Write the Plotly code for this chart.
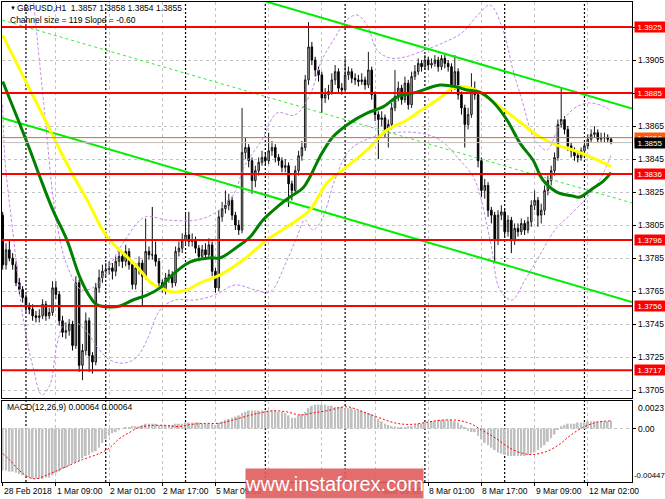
import plotly.graph_objects as go

# ---------------- data (prices in pips above BASE) ----------------
BASE = 1.37
PIP = 0.0001

first_open_pips = 111
close_pips = [81, 90, 85, 81, 70, 66, 61, 55, 54, 50,
              49, 50, 57, 50, 52, 67, 63, 47, 40, 41,
              45, 32, 70, 20, 29, 47, 26, 22, 67, 73,
              77, 78, 79, 77, 83, 86, 83, 89, 81, 69,
              79, 82, 74, 89, 87, 87, 83, 70, 66, 73,
              75, 70, 89, 91, 96, 99, 95, 96, 91, 86,
              90, 87, 93, 77, 67, 110, 115, 117, 120, 111,
              105, 102, 149, 152, 144, 132, 138, 143, 146, 144,
              150, 152, 146, 144, 140, 141, 130, 126, 138, 147,
              152, 193, 213, 205, 199, 196, 182, 184, 186, 193,
              198, 188, 187, 196, 198, 194, 193, 192, 193, 190,
              199, 184, 172, 169, 170, 163, 166, 176, 183, 188,
              181, 191, 178, 195, 198, 203, 201, 205, 202, 203,
              205, 201, 206, 203, 201, 189, 198, 184, 176, 166,
              172, 186, 184, 144, 126, 129, 114, 111, 96, 111,
              113, 101, 108, 96, 103, 101, 106, 102, 107, 117,
              120, 111, 114, 126, 132, 138, 146, 166, 169, 163,
              153, 150, 147, 146, 150, 153, 157, 160, 161, 157,
              158, 158, 157, 155]
high_pips = [113, 94, 96, 88, 83, 73, 68, 63, 58, 57,
             53, 54, 60, 59, 55, 71, 71, 65, 50, 46,
             48, 47, 74, 72, 33, 52, 49, 28, 70, 78,
             81, 82, 83, 82, 86, 90, 88, 93, 91, 83,
             82, 86, 84, 109, 92, 116, 95, 85, 72, 76,
             78, 77, 92, 95, 100, 112, 113, 100, 98, 93,
             93, 94, 97, 95, 79, 114, 119, 126, 124, 122,
             113, 108, 176, 158, 154, 146, 141, 146, 150, 149,
             161, 156, 154, 148, 146, 145, 143, 132, 141, 150,
             156, 196, 228, 216, 207, 201, 198, 188, 190, 197,
             202, 200, 191, 206, 201, 200, 197, 196, 197, 195,
             210, 201, 186, 174, 174, 172, 169, 179, 199, 192,
             190, 195, 193, 198, 202, 206, 205, 208, 207, 206,
             208, 207, 208, 208, 205, 203, 208, 200, 186, 178,
             176, 197, 192, 186, 146, 133, 131, 116, 113, 114,
             117, 115, 111, 110, 106, 106, 109, 108, 110, 120,
             126, 122, 118, 129, 135, 141, 149, 169, 188, 171,
             165, 155, 152, 149, 152, 156, 160, 163, 165, 163,
             161, 161, 160, 158]
low_pips = [78, 78, 83, 78, 68, 63, 58, 52, 51, 47,
            46, 46, 48, 47, 48, 50, 60, 44, 37, 36,
            38, 29, 30, 16, 11, 26, 16, 15, 20, 64,
            70, 74, 75, 72, 74, 80, 79, 80, 78, 66,
            66, 75, 56, 72, 84, 84, 80, 67, 64, 63,
            70, 67, 68, 86, 88, 93, 92, 92, 88, 83,
            84, 84, 85, 74, 64, 65, 107, 112, 114, 108,
            102, 99, 100, 145, 140, 124, 128, 135, 141, 141,
            142, 147, 143, 141, 137, 137, 116, 120, 124, 135,
            144, 150, 190, 202, 195, 192, 173, 179, 181, 184,
            190, 185, 184, 185, 193, 191, 190, 189, 190, 187,
            188, 181, 168, 145, 165, 158, 152, 163, 174, 180,
            178, 179, 175, 176, 193, 196, 198, 199, 199, 200,
            201, 198, 199, 200, 198, 186, 187, 181, 172, 152,
            163, 170, 181, 140, 122, 121, 110, 106, 82, 93,
            108, 98, 98, 88, 93, 98, 99, 99, 100, 104,
            114, 104, 106, 111, 123, 129, 135, 144, 164, 160,
            150, 146, 144, 143, 144, 148, 151, 155, 158, 155,
            155, 155, 155, 154]

# moving averages read at sample bars (bar index, pips)
yellow_idx = [0, 8.2, 12.7, 17.2, 20.8, 25.4, 31.4, 37.4, 41.3, 44.3, 47.3, 51.2, 55.4, 59.3, 65.4,
              72.3, 79.5, 87.3, 92.4, 97.5, 102.3, 109.6, 115.6, 121.6, 125.5, 131.5, 135.4, 139.6,
              143.5, 149.6, 155.6, 161.6, 166.7, 171.5, 177.5, 183]
yellow_pips = [220, 187, 169, 150.5, 136.6, 120.2, 97.8, 85.7, 77.8, 70.5, 66.9, 64.4, 65.7, 69.9, 74.8,
               83.8, 96, 106.3, 114.1, 130.5, 138.4, 150.5, 162.6, 168.7, 174.1, 182, 188.1, 188.7,
               185.6, 176.6, 167.5, 158.4, 153.5, 150.5, 145.7, 140.5]
green_idx = [0, 4.3, 8.2, 11.2, 15.1, 19.3, 23.2, 26.3, 28.4, 32.3, 35.3, 39.2, 43.4, 47.3, 50.3, 56.3,
             62.4, 65.4, 70.5, 74.4, 78.3, 82.5, 86.4, 90.3, 92.4, 95.4, 99.3, 104.4, 109.6, 114.4,
             118.6, 124.6, 131.5, 136.6, 139.6, 143.5, 147.5, 151.7, 155.6, 159.5, 162.5, 166.7,
             171.5, 173.6, 177.5, 180.5, 183]
green_pips = [192, 170.5, 150.5, 134.1, 114.1, 96, 73.5, 61.4, 56.6, 55.4, 56, 59.6, 62.6, 66.9, 73.5, 82.6,
              85.1, 85.1, 91.7, 97.8, 108.1, 115.9, 122, 127.5, 134.1, 146.3, 158.4, 166.9, 172.9, 176.6,
              182.6, 185.6, 189.9, 188.7, 186.9, 185.6, 179.6, 168.7, 154.7, 144.4, 132.3, 125,
              122.6, 122, 127.2, 131.3, 136.8]

# envelope bands read at sample bars
upper_idx = [9, 12.7, 15.7, 19.3, 23.8, 28.4, 32.3, 36.8, 42.8, 49.4, 58.4, 63.8, 69.3, 72.9, 78, 82.5,
             87.9, 92.4, 96, 99.9, 103.5, 106.6, 109.6, 112.6, 116.5, 121, 127, 133, 138.1, 142.9,
             146.6, 150.5, 153.5, 156.2, 160.1, 163.7, 167.6, 172.1, 176.6, 181.1, 183]
upper_pips = [246, 171.7, 114.1, 80.8, 65.7, 68.7, 80.8, 96, 109.9, 108.1, 108.1, 112.3, 123.2, 141.4,
              156.6, 172.9, 171.7, 183.8, 205, 218.4, 229.3, 232.3, 226.2, 211.1, 206.3, 206.9, 211.1,
              215.9, 221.4, 232.3, 238.4, 223.2, 199, 180.8, 156.6, 150.5, 165.7, 176, 179, 176.6, 174]
lower_idx = [0, 0.7, 3.1, 6.1, 9.1, 11.8, 14.2, 16.3, 18.7, 21.7, 25.4, 28.4, 32.3, 36.8, 40.4, 43.4,
             47.3, 51.8, 57.8, 63.8, 69.9, 75.9, 80.4, 84.9, 88.5, 90.9, 93.3, 96, 99.9, 104.4, 110.5,
             116.5, 125.5, 131.5, 137.5, 142, 146.6, 149.6, 153.2, 157.1, 161.6, 166.1, 170.6, 175.1,
             179.6, 183]
lower_pips = [178, 144.4, 100.2, 49.3, 19, 2, 8.1, 32.3, 45.7, 46.3, 40.2, 31.1, 23.2, 21.4, 25.1, 35.4,
              53.5, 59.6, 59.6, 62.6, 68.7, 65.7, 64.4, 80.8, 97.8, 108.1, 102, 108.1, 132.3, 150.5,
              157.8, 160.8, 160.8, 156.6, 144.4, 132.3, 96, 65.7, 59.6, 71.7, 86.9, 102, 111.1, 120.2,
              132.3, 147.5]

# trend channel (bar index, price)
chan_upper_x = [75, 189.3]
chan_upper_y = [1.3943, 1.38756]
chan_lower_x = [-0.21, 189.3]
chan_lower_y = [1.38699, 1.37584]
chan_mid_x = [-0.21, 189.3]
chan_mid_y = [1.39293, 1.38184]

levels = [1.3925, 1.3885, 1.3836, 1.3796, 1.3756, 1.3717]
alert_level = 1.3858
bid_level = 1.3855

price_ticks = [1.3705, 1.3725, 1.3745, 1.3765, 1.3785, 1.3805, 1.3825, 1.3845, 1.3865, 1.3885, 1.3905]
grid_prices = price_ticks + [1.3925]

xtick_idx = [0, 16, 32, 48, 64, 80, 96, 112, 128, 144, 160, 176]
xtick_labels = ["28 Feb 2018", "1 Mar 09:00", "2 Mar 01:00", "2 Mar 17:00", "5 Mar 09:00",
                "6 Mar 01:00", "6 Mar 17:00", "7 Mar 09:00", "8 Mar 01:00", "8 Mar 17:00",
                "9 Mar 09:00", "12 Mar 02:00"]
# labels that sit completely under the watermark banner are not visible in the chart
hidden_labels = ["6 Mar 01:00", "6 Mar 17:00"]
day_start_idx = [7, 31, 55, 79, 103, 127, 151, 175]

# MACD histogram (units of 0.0001) per bar, signal line read at sample bars
macd_e4 = [-35, -35, -36, -36, -37, -38, -39, -40, -41, -42, -42, -42,
           -42, -41, -41, -39, -37, -36, -34, -33, -31, -29, -28, -27,
           -25, -23, -22, -20, -19, -16, -12, -9, -6, -4, -3, -1,
           0, 1, 1, 2, 2, 2, 3, 4, 4, 4, 4, 3,
           3, 3, 3, 3, 4, 4, 4, 5, 5, 5, 5, 5,
           4, 4, 4, 4, 3, 5, 6, 7, 8, 9, 10, 11,
           13, 14, 15, 15, 15, 15, 15, 15, 15, 15, 15, 14,
           14, 13, 11, 9, 9, 11, 12, 14, 17, 19, 20, 20,
           20, 20, 19, 19, 18, 18, 18, 17, 17, 17, 16, 15,
           15, 14, 13, 12, 10, 8, 6, 4, 3, 2, 2, 1,
           1, 1, 2, 2, 3, 4, 4, 5, 5, 6, 6, 7,
           7, 7, 7, 7, 6, 5, 3, 1, -2, -3, -3, -6,
           -9, -12, -14, -16, -18, -20, -21, -22, -23, -23, -23, -23,
           -23, -23, -22, -21, -20, -18, -16, -14, -11, -8, -5, -1,
           2, 3, 4, 4, 4, 5, 5, 5, 6, 6, 6, 6,
           6, 6, 6, 6.4]
signal_idx = [0, 2, 5, 8, 10, 14, 19, 24, 29, 32, 35, 38, 41, 45, 49, 53, 57, 61, 65, 69, 73.5, 77.4,
              81.3, 85.5, 89.4, 93.3, 97.5, 103.5, 108.4, 113.5, 118.6, 123.4, 127.6, 131.5, 136.6,
              140.5, 144.4, 148.6, 152.6, 156.5, 159.5, 163.7, 167.6, 170.6, 174.5, 178.7, 183]
signal_e4 = [-21, -26, -35, -41, -42, -38, -32, -26, -21, -16.5, -8.7, -3.5, 0.9, 2.6, 2.6, 1.7, 3.5,
             4.3, 4.3, 6.9, 10.4, 13, 14.8, 13.9, 11.3, 13, 14.8, 18.2, 13.9, 8.7, 4.3, 3.5, 5.2, 6.9,
             6.9, 4.3, -1.7, -8.7, -16.5, -20.8, -21.7, -19.1, -13, -6.1, 0.9, 5.2, 6.4]

assert len(close_pips) == len(high_pips) == len(low_pips) == len(macd_e4)


def to_price(arr):
    return [round(BASE + v * PIP, 5) for v in arr]


def to_macd(arr):
    return [v * 0.0001 for v in arr]


bars = list(range(len(close_pips)))
open_pips = [first_open_pips] + close_pips[:-1]

# ---------------- figure ----------------
FONT = "Liberation Sans, Arial, sans-serif"
XR = [-0.21, 189.3]
YR = [1.37002, 1.39402]
Y2R = [-0.00447, 0.0023]
GRID = "#c4c4c4"

fig = go.Figure()

fig.add_trace(go.Candlestick(
    x=bars, open=to_price(open_pips), high=to_price(high_pips),
    low=to_price(low_pips), close=to_price(close_pips),
    increasing=dict(line=dict(color="#1a1a1a", width=1), fillcolor="#c4c4c4"),
    decreasing=dict(line=dict(color="#000000", width=1), fillcolor="#000000"),
    whiskerwidth=0, xaxis="x", yaxis="y", hoverinfo="skip", showlegend=False))

band_style = dict(color="#c58ae8", width=1, dash="3px,2px")
fig.add_trace(go.Scatter(x=upper_idx, y=to_price(upper_pips), mode="lines",
                         line=dict(shape="spline", **band_style), xaxis="x", yaxis="y"))
fig.add_trace(go.Scatter(x=lower_idx, y=to_price(lower_pips), mode="lines",
                         line=dict(shape="spline", **band_style), xaxis="x", yaxis="y"))

fig.add_trace(go.Scatter(x=chan_mid_x, y=chan_mid_y, mode="lines",
                         line=dict(color="#33ee33", width=1, dash="3px,3px"), xaxis="x", yaxis="y"))
fig.add_trace(go.Scatter(x=chan_upper_x, y=chan_upper_y, mode="lines",
                         line=dict(color="#00ee00", width=2), xaxis="x", yaxis="y"))
fig.add_trace(go.Scatter(x=chan_lower_x, y=chan_lower_y, mode="lines",
                         line=dict(color="#00ee00", width=2), xaxis="x", yaxis="y"))

fig.add_trace(go.Scatter(x=yellow_idx, y=to_price(yellow_pips), mode="lines",
                         line=dict(color="#ffff00", width=3, shape="spline"), xaxis="x", yaxis="y"))
fig.add_trace(go.Scatter(x=green_idx, y=to_price(green_pips), mode="lines",
                         line=dict(color="#008000", width=3, shape="spline"), xaxis="x", yaxis="y"))

# MACD pane
fig.add_trace(go.Bar(x=bars, y=to_macd(macd_e4), marker=dict(color="#c0c0c0", line=dict(width=0)),
                     width=0.55, xaxis="x2", yaxis="y2", hoverinfo="skip"))
fig.add_trace(go.Scatter(x=signal_idx, y=to_macd(signal_e4), mode="lines",
                         line=dict(color="#ff0000", width=1, dash="2px,2px", shape="spline"),
                         xaxis="x2", yaxis="y2"))

shapes = []
for d in day_start_idx:
    shapes.append(dict(type="line", xref="x", yref="paper", x0=d, x1=d, y0=0, y1=1,
                       line=dict(color="#000000", width=1.2, dash="2px,2px"), layer="below"))
shapes.append(dict(type="line", xref="paper", yref="y", x0=0, x1=1, y0=bid_level, y1=bid_level,
                   line=dict(color="#c0c0c0", width=1), layer="above"))
shapes.append(dict(type="line", xref="paper", yref="y", x0=0, x1=1, y0=alert_level, y1=alert_level,
                   line=dict(color="#ff5a14", width=1), layer="above"))
for lv in levels:
    shapes.append(dict(type="line", xref="paper", yref="y", x0=0, x1=1, y0=lv, y1=lv,
                       line=dict(color="#ff0000", width=2), layer="above"))

ann = []
LBL = dict(size=8.5, color="black", family=FONT)

# right-hand price scale labels (the ones under a level box are shown by the box itself)
for p in price_ticks:
    if any(abs(p - lv) < 1e-9 for lv in levels):
        continue
    ann.append(dict(text=f"{p:.4f}", xref="paper", yref="y", x=1, y=p, xanchor="left",
                    yanchor="middle", xshift=4, showarrow=False, font=LBL))


def price_box(v, color):
    ann.append(dict(text=f"{v:.4f}", xref="paper", yref="y", x=1, y=v, xanchor="left", yanchor="middle",
                    xshift=2, showarrow=False, bgcolor=color, borderpad=0, width=30, height=10,
                    font=dict(color="white", size=8, family=FONT)))


for lv in levels:
    price_box(lv, "#ff0000")
price_box(alert_level, "#ff5a14")
price_box(bid_level, "#000000")

# time scale labels, left-aligned at their ticks
for xi, lab in zip(xtick_idx, xtick_labels):
    if lab in hidden_labels:
        continue
    ann.append(dict(text=lab, xref="x2", yref="paper", x=xi, y=0, xanchor="left", yanchor="top",
                    xshift=-1, yshift=-2, showarrow=False, font=LBL))

ann.append(dict(text="▼", xref="paper", yref="paper", x=0.009, y=0.9875, xanchor="left", yanchor="middle",
                showarrow=False, font=dict(size=6, color="black", family=FONT)))
ann.append(dict(text="GBPUSD,H1  1.3857 1.3858 1.3854 1.3855", xref="paper", yref="paper", x=0.0206,
                y=0.9875, xanchor="left", yanchor="middle", showarrow=False, font=LBL))
ann.append(dict(text="Channel size = 119 Slope = -0.60", xref="paper", yref="paper", x=0.0095,
                y=0.9625, xanchor="left", yanchor="middle", showarrow=False, font=LBL))
ann.append(dict(text="MACD(12,26,9) 0.00064 0.00064", xref="paper", yref="paper", x=0.005,
                y=0.156, xanchor="left", yanchor="middle", showarrow=False, font=LBL))
for txt, yv, ya, xs, fs in [("0.0023", 0.0023, "top", 4, 8.5), ("0.00", 0.0, "middle", 4, 8.5),
                            ("-0.00447", -0.00447, "bottom", 0, 7.8)]:
    ann.append(dict(text=txt, xref="paper", yref="y2", x=1, y=yv, xanchor="left", yanchor=ya, xshift=xs,
                    showarrow=False, font=dict(size=fs, color="black", family=FONT)))
# watermark banner laid over the time scale
ann.append(dict(text="www.instaforex.com", xref="paper", yref="paper", x=0.3857, y=0.0292,
                xanchor="left", yanchor="top", showarrow=False, width=177, height=29,
                bgcolor="rgba(224,92,92,0.9)", borderpad=0,
                font=dict(size=20, color="white", family=FONT)))

axis_common = dict(showline=True, linecolor="#000000", linewidth=1, mirror=True, zeroline=False,
                   automargin=False)

fig.update_layout(
    width=665, height=499, margin=dict(l=2, r=33, t=2, b=17, autoexpand=False),
    paper_bgcolor="white", plot_bgcolor="white", showlegend=False, hovermode=False,
    font=dict(family=FONT, size=8.5, color="black"),
    boxgap=0.35,
    xaxis=dict(domain=[0, 1], anchor="y", range=XR, tickvals=xtick_idx, showticklabels=False,
               ticks="", showgrid=True, gridcolor=GRID, griddash="3px,3px", gridwidth=1,
               rangeslider=dict(visible=False), **axis_common),
    yaxis=dict(domain=[0.175, 1], anchor="x", side="right", range=YR, tickvals=grid_prices,
               showticklabels=False, ticks="outside", ticklen=3,
               tickcolor="#000000", showgrid=True, gridcolor=GRID, griddash="3px,3px", **axis_common),
    xaxis2=dict(domain=[0, 1], anchor="y2", range=XR, tickvals=xtick_idx, showticklabels=False,
                ticks="outside", ticklen=3, tickcolor="#000000",
                showgrid=True, gridcolor=GRID, griddash="3px,3px", **axis_common),
    yaxis2=dict(domain=[0, 0.16875], anchor="x2", side="right", range=Y2R, tickvals=[0],
                showticklabels=False, ticks="outside", ticklen=3, tickcolor="#000000",
                showgrid=True, gridcolor=GRID, griddash="3px,3px", **axis_common),
    shapes=shapes, annotations=ann,
)

# the page's default 8px body margin would shift the 665x499 figure out of the window
fig.write_html("out.html", config={"displayModeBar": False},
               post_script="document.body.style.margin='0px';document.body.style.overflow='hidden';")
